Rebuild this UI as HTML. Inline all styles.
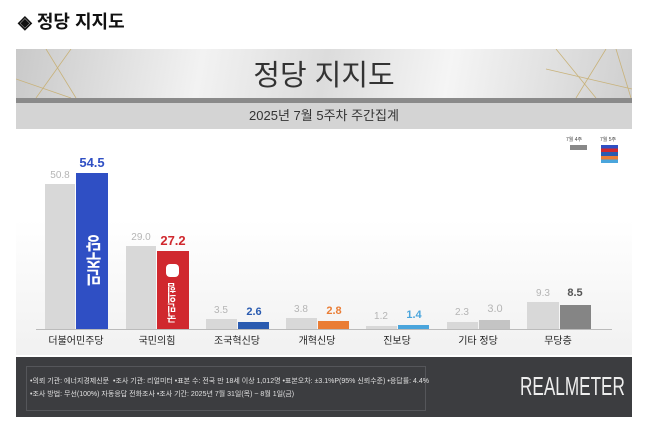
<!DOCTYPE html><html><head><meta charset="utf-8"><style>
body{margin:0;width:662px;height:422px;background:#fff;position:relative;overflow:hidden;font-family:"Liberation Sans","Noto Sans CJK KR",sans-serif}
.a{position:absolute}
.b{position:absolute;bottom:93px}
.v{position:absolute;width:32px;text-align:center;font-size:10px;color:#b5b5b5}
.c{position:absolute;width:36px;text-align:center;font-size:11px;font-weight:bold}
.l{position:absolute;top:332px;width:80px;text-align:center;font-size:10px;color:#222}
</style></head><body>
<div class="a" style="left:18px;top:8px;font-size:18px;font-weight:bold;color:#111">◈ 정당 지지도</div>
<div class="a" style="left:16px;top:49px;width:616px;height:49px;background:linear-gradient(100deg,#c9c9c9,#f2f2f2 30%,#dcdcdc 50%,#f5f5f5 70%,#cfcfcf)"></div>
<svg class="a" style="left:16px;top:49px" width="616" height="49"><g stroke="#c8b27a" stroke-width="0.8" fill="none"><path d="M0 30L55 49M30 0L60 49M55 0L20 49M590 0L560 49M600 0L615 49M530 20L616 40M540 0L580 49"/></g></svg>
<div class="a" style="left:16px;top:52px;width:616px;text-align:center;font-size:29px;color:#333">정당 지지도</div>
<div class="a" style="left:16px;top:98px;width:616px;height:5px;background:#8a8a8a"></div>
<div class="a" style="left:16px;top:103px;width:616px;height:26px;background:#d4d4d4;text-align:center;font-size:13px;line-height:26px;color:#333">2025년 7월 5주차 주간집계</div>
<div class="a" style="left:16px;top:129px;width:616px;height:226px;background:linear-gradient(#fff 40%,#f1f1f1)"></div>
<div class="a" style="left:566px;top:136px;font-size:5px;color:#444">7월 4주</div>
<div class="a" style="left:600px;top:136px;font-size:5px;color:#444">7월 5주</div>
<div class="a" style="left:570px;top:145px;width:17px;height:5px;background:#888"></div>
<div class="a" style="left:601px;top:145px;width:17px;height:18px;background:linear-gradient(#2f4fc4 0 20%,#d0282e 20% 40%,#2a5bb0 40% 60%,#ea7d35 60% 80%,#4aa5dc 80%)"></div>
<div class="a" style="left:36px;top:329px;width:576px;height:1px;background:#bbb"></div>
<div class="b" style="left:45px;width:30px;height:145px;background:#d8d8d8"></div>
<div class="b" style="left:76px;width:32px;height:156px;background:#2f4fc4"></div>
<div class="a" style="left:83px;top:235px;color:#fff;font-weight:bold;font-size:17px;writing-mode:vertical-rl;transform:rotate(180deg)">민주당</div>
<div class="b" style="left:126px;width:30px;height:83px;background:#d8d8d8"></div>
<div class="b" style="left:157px;width:32px;height:78px;background:#d0282e"></div>
<div class="a" style="left:166px;top:264px;width:13px;height:13px;background:#fff;border-radius:4px"></div>
<div class="a" style="left:166px;top:283px;color:#fff;font-weight:bold;font-size:10px;writing-mode:vertical-rl;transform:rotate(180deg)">국민의힘</div>
<div class="b" style="left:206px;width:31px;height:10px;background:#d8d8d8"></div>
<div class="b" style="left:238px;width:31px;height:7px;background:#2a5bb0"></div>
<div class="b" style="left:286px;width:31px;height:11px;background:#d8d8d8"></div>
<div class="b" style="left:318px;width:31px;height:8px;background:#ea7d35"></div>
<div class="b" style="left:366px;width:31px;height:3px;background:#d8d8d8"></div>
<div class="b" style="left:398px;width:31px;height:4px;background:#4aa5dc"></div>
<div class="b" style="left:447px;width:31px;height:7px;background:#d8d8d8"></div>
<div class="b" style="left:479px;width:31px;height:9px;background:#c4c4c4"></div>
<div class="b" style="left:527px;width:32px;height:27px;background:#d8d8d8"></div>
<div class="b" style="left:560px;width:31px;height:24px;background:#858585"></div>
<div class="v" style="left:44px;top:170px">50.8</div><div class="c" style="left:74px;top:155px;color:#2f4fc4;font-size:13px">54.5</div>
<div class="v" style="left:125px;top:232px">29.0</div><div class="c" style="left:155px;top:233px;color:#d0282e;font-size:13px">27.2</div>
<div class="v" style="left:205px;top:305px">3.5</div><div class="c" style="left:236px;top:306px;color:#2a5bb0">2.6</div>
<div class="v" style="left:285px;top:304px">3.8</div><div class="c" style="left:316px;top:305px;color:#ea7d35">2.8</div>
<div class="v" style="left:365px;top:311px">1.2</div><div class="c" style="left:396px;top:309px;color:#4aa5dc">1.4</div>
<div class="v" style="left:446px;top:307px">2.3</div><div class="c" style="left:477px;top:303px;color:#b5b5b5;font-weight:normal">3.0</div>
<div class="v" style="left:527px;top:288px">9.3</div><div class="c" style="left:557px;top:287px;color:#555">8.5</div>
<div class="l" style="left:36px">더불어민주당</div>
<div class="l" style="left:117px">국민의힘</div>
<div class="l" style="left:197px">조국혁신당</div>
<div class="l" style="left:277px">개혁신당</div>
<div class="l" style="left:357px">진보당</div>
<div class="l" style="left:438px">기타 정당</div>
<div class="l" style="left:518px">무당층</div>
<div class="a" style="left:16px;top:357px;width:616px;height:60px;background:#3c3d40"></div>
<div class="a" style="left:26px;top:366px;width:398px;height:43px;border:1px solid #55565a"></div>
<div class="a" style="left:30px;top:375px;font-size:7px;color:#e0e0e0;line-height:13px;white-space:nowrap">•의뢰 기관: 에너지경제신문 &nbsp;•조사 기관: 리얼미터 •표본 수: 전국 만 18세 이상 1,012명 •표본오차: ±3.1%P(95% 신뢰수준) •응답률: 4.4%<br>•조사 방법: 무선(100%) 자동응답 전화조사 •조사 기간: 2025년 7월 31일(목) ~ 8월 1일(금)</div>
<div class="a" style="left:520px;top:371px;font-size:26px;color:#eee;transform:scaleX(0.66);transform-origin:left;white-space:nowrap">REALMETER</div>
</body></html>
